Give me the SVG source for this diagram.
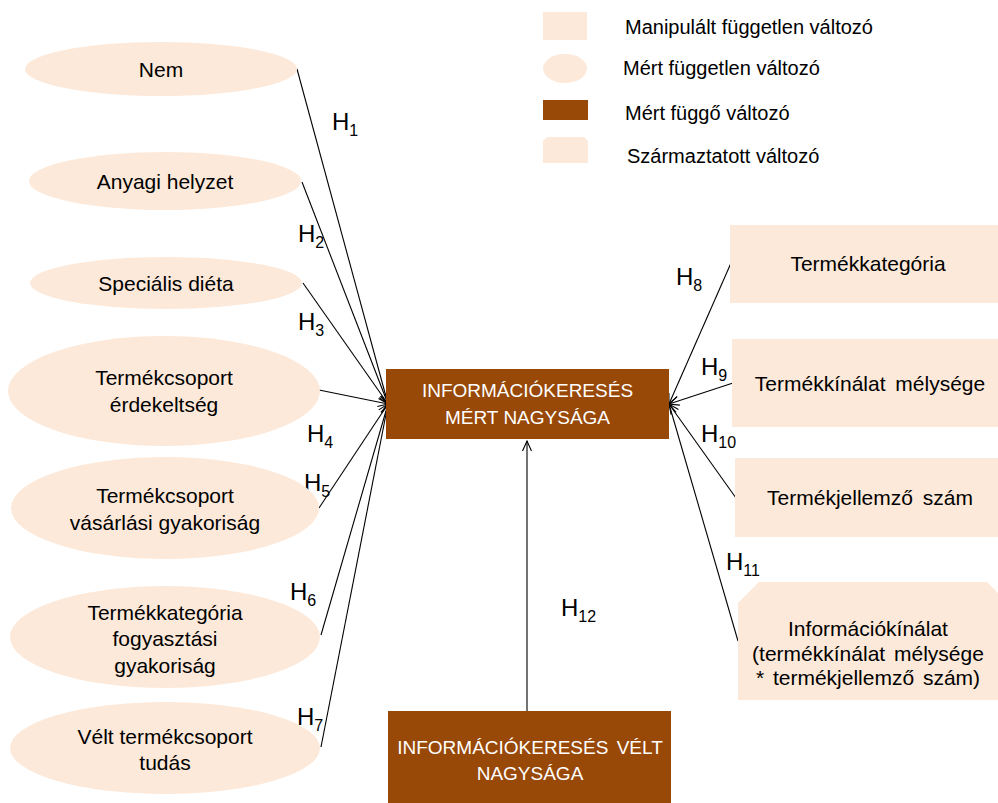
<svg xmlns="http://www.w3.org/2000/svg" width="998" height="803" viewBox="0 0 998 803">
<style>
  .ell { fill: #FDE9D9; }
  .box { fill: #FDE9D9; }
  .dep { fill: #984807; }
  .t { font-family: "Liberation Sans", Arial, sans-serif; font-size: 21px; fill: #000; text-anchor: middle; dominant-baseline: central; }
  .tw { font-family: "Liberation Sans", Arial, sans-serif; font-size: 19px; fill: #fff; text-anchor: middle; dominant-baseline: central; }
  .lg { font-family: "Liberation Sans", Arial, sans-serif; font-size: 20px; fill: #000; dominant-baseline: central; }
  .h { font-family: "Liberation Sans", Arial, sans-serif; font-size: 24px; fill: #000; }
  .hs { font-size: 16px; }
  .c line { stroke: #000; stroke-width: 1.1; marker-end: url(#ah); }
</style>
<defs>
  <marker id="ah" markerUnits="userSpaceOnUse" markerWidth="12" markerHeight="12" viewBox="0 0 12 12" refX="11" refY="6" orient="auto">
    <path d="M1,1.5 L11,6 L1,10.5" fill="none" stroke="#000" stroke-width="1.1"/>
  </marker>
</defs>
<rect width="998" height="803" fill="#fff"/>

<!-- legend -->
<g id="legend">
  <rect x="543" y="12" width="44" height="28" class="box"/>
  <ellipse cx="565" cy="68.5" rx="22" ry="14.5" class="ell"/>
  <rect x="543" y="100" width="45" height="20" class="dep"/>
  <path d="M547,137 H584 L588,141 V163 H543 V141 Z" class="box"/>
  <text x="625" y="27" class="lg">Manipulált független változó</text>
  <text x="623" y="68" class="lg">Mért független változó</text>
  <text x="625" y="113" class="lg">Mért függő változó</text>
  <text x="627" y="156" class="lg">Származtatott változó</text>
</g>

<!-- connectors -->
<g id="connectors" class="c">
  <line x1="297" y1="69" x2="388" y2="404"/>
  <line x1="302" y1="182" x2="388" y2="404"/>
  <line x1="303" y1="283" x2="388" y2="404"/>
  <line x1="319" y1="390" x2="388" y2="404"/>
  <line x1="319" y1="508" x2="388" y2="404"/>
  <line x1="321" y1="635" x2="388" y2="404"/>
  <line x1="321" y1="747" x2="388" y2="404"/>
  <line x1="731" y1="263" x2="669" y2="404"/>
  <line x1="733" y1="383" x2="669" y2="404"/>
  <line x1="736" y1="498" x2="669" y2="404"/>
  <line x1="738" y1="641" x2="669" y2="404"/>
  <line x1="527" y1="723" x2="527" y2="441"/>
</g>

<!-- hypothesis labels -->
<g id="labels">
  <text x="332" y="130" class="h">H<tspan class="hs" dy="6">1</tspan></text>
  <text x="298" y="242" class="h">H<tspan class="hs" dy="6">2</tspan></text>
  <text x="298" y="330" class="h">H<tspan class="hs" dy="6">3</tspan></text>
  <text x="307" y="442" class="h">H<tspan class="hs" dy="6">4</tspan></text>
  <text x="304" y="491" class="h">H<tspan class="hs" dy="6">5</tspan></text>
  <text x="290" y="600" class="h">H<tspan class="hs" dy="6">6</tspan></text>
  <text x="297" y="725" class="h">H<tspan class="hs" dy="6">7</tspan></text>
  <text x="676" y="285" class="h">H<tspan class="hs" dy="6">8</tspan></text>
  <text x="701" y="375" class="h">H<tspan class="hs" dy="6">9</tspan></text>
  <text x="701" y="442" class="h">H<tspan class="hs" dy="6">10</tspan></text>
  <text x="726" y="570" class="h">H<tspan class="hs" dy="6">11</tspan></text>
  <text x="561" y="616" class="h">H<tspan class="hs" dy="6">12</tspan></text>
</g>

<!-- left ellipses -->
<g id="nem"><ellipse cx="161" cy="69" rx="136" ry="27" class="ell"/><text x="161" y="69" class="t">Nem</text></g>
<g id="anyagi"><ellipse cx="165" cy="181" rx="136" ry="29" class="ell"/><text x="165" y="181" class="t">Anyagi helyzet</text></g>
<g id="dieta"><ellipse cx="166" cy="283" rx="136" ry="26" class="ell"/><text x="166" y="283" class="t">Speciális diéta</text></g>
<g id="erdekeltseg"><ellipse cx="164" cy="391" rx="156" ry="55" class="ell"/><text x="164" y="377" class="t">Termékcsoport</text><text x="164" y="404" class="t">érdekeltség</text></g>
<g id="vasarlasi"><ellipse cx="165" cy="508" rx="154" ry="51" class="ell"/><text x="165" y="495" class="t">Termékcsoport</text><text x="165" y="522" class="t">vásárlási gyakoriság</text></g>
<g id="fogyasztasi"><ellipse cx="165" cy="637" rx="155" ry="51" class="ell"/><text x="165" y="612" class="t">Termékkategória</text><text x="165" y="638" class="t">fogyasztási</text><text x="165" y="665" class="t">gyakoriság</text></g>
<g id="tudas"><ellipse cx="165" cy="748" rx="155" ry="46" class="ell"/><text x="165" y="736" class="t">Vélt termékcsoport</text><text x="165" y="762" class="t">tudás</text></g>

<!-- right boxes -->
<g id="termekkategoria"><rect x="730" y="225" width="280" height="78" class="box"/><text x="868" y="263" class="t">Termékkategória</text></g>
<g id="melyseg"><rect x="732" y="339" width="280" height="88" class="box"/><text x="870" y="383" class="t" word-spacing="4">Termékkínálat mélysége</text></g>
<g id="jellemzo"><rect x="735" y="458" width="280" height="79" class="box"/><text x="870" y="497" class="t" word-spacing="4">Termékjellemző szám</text></g>
<g id="informaciokinalat"><path d="M759,582 H987 L1008,603 V700 H738 V603 Z" class="box"/><text x="868" y="628" class="t">Információkínálat</text><text x="868" y="653" class="t" word-spacing="3">(termékkínálat mélysége</text><text x="868" y="677" class="t" word-spacing="3">* termékjellemző szám)</text></g>

<!-- dependent boxes -->
<g id="mert"><rect x="386" y="369" width="283" height="70" class="dep"/><text x="527.5" y="390" class="tw">INFORMÁCIÓKERESÉS</text><text x="527.5" y="417" class="tw">MÉRT NAGYSÁGA</text></g>
<g id="velt"><rect x="388" y="711" width="283" height="95" class="dep"/><text x="530" y="747" class="tw" word-spacing="3">INFORMÁCIÓKERESÉS VÉLT</text><text x="530" y="773" class="tw">NAGYSÁGA</text></g>
</svg>
